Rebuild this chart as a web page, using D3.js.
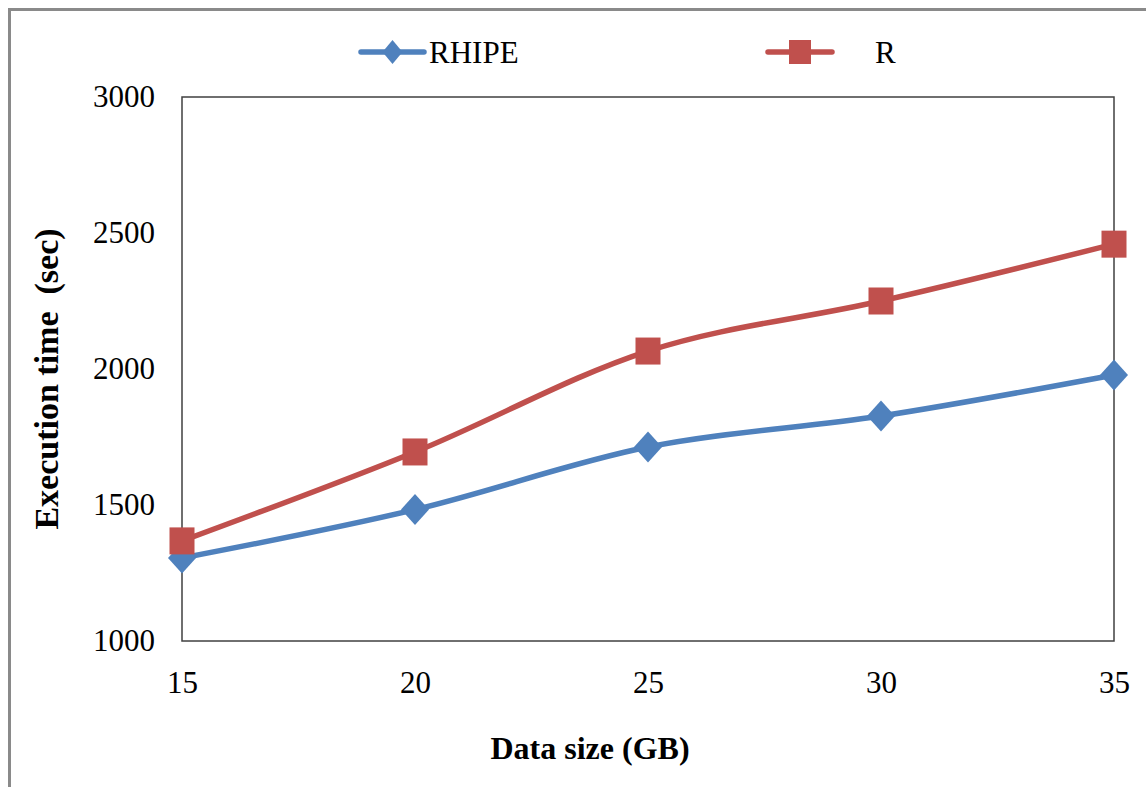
<!DOCTYPE html>
<html><head><meta charset="utf-8">
<script src="https://cdn.jsdelivr.net/npm/d3@7"></script>
<style>
html,body{margin:0;padding:0;background:#fff;}
svg{display:block;}
svg text{font-family:"Liberation Serif","Times New Roman",Times,serif;}
</style>
</head><body>
<svg id="c" width="1146" height="787"></svg>
<script>
const dataSizes = [15, 20, 25, 30, 35];
const rhipe = [1305, 1483, 1713, 1827, 1978];
const rOnly = [1368, 1695, 2066, 2250, 2459];
const yTicks = [1000, 1500, 2000, 2500, 3000];
const xTicks = [15, 20, 25, 30, 35];
const seriesNames = ["RHIPE", "R"];

const svg = d3.select("#c");
const blue = "#4F81BD", red = "#C0504D";

// outer frame
svg.append("rect").attr("x", 9.5).attr("y", 9.5).attr("width", 1160).attr("height", 800)
  .attr("fill", "none").attr("stroke", "#8a8a8a").attr("stroke-width", 3);

const L = 182, R = 1114, T = 97, B = 641;
const x = d3.scaleLinear().domain([15, 35]).range([L, R]);
const y = d3.scaleLinear().domain([1000, 3000]).range([B, T]);

// plot box
svg.append("rect").attr("x", L).attr("y", T).attr("width", R - L).attr("height", B - T)
  .attr("fill", "none").attr("stroke", "#404040").attr("stroke-width", 1.5);

// axes (labels only)
const yAxis = svg.append("g").attr("transform", `translate(${L},0)`)
  .call(d3.axisLeft(y).tickValues(yTicks).tickSize(0).tickPadding(27).tickFormat(d3.format("d")));
yAxis.select(".domain").remove();
yAxis.selectAll("text").style("font-size", "31px").attr("fill", "#000");

const xAxis = svg.append("g").attr("transform", `translate(0,${B})`)
  .call(d3.axisBottom(x).tickValues(xTicks).tickSize(0).tickPadding(30).tickFormat(d3.format("d")));
xAxis.select(".domain").remove();
xAxis.selectAll("text").style("font-size", "31px").attr("fill", "#000");

// axis titles
svg.append("text").attr("x", 590).attr("y", 759).attr("text-anchor", "middle")
  .style("font-weight", "bold").style("font-size", "32px").text("Data size (GB)");
svg.append("text").attr("transform", "translate(58,379) rotate(-90)").attr("text-anchor", "middle")
  .style("font-weight", "bold").style("font-size", "34px")
  .text("Execution time\u00A0 (sec)");

const line = d3.line().x((d, i) => x(dataSizes[i])).y(d => y(d)).curve(d3.curveCatmullRom.alpha(0));

function diamond(g, cx, cy, w, h, col) {
  g.append("path").attr("d", `M${cx},${cy - h}L${cx + w},${cy}L${cx},${cy + h}L${cx - w},${cy}Z`).attr("fill", col);
}
function square(g, cx, cy, w, h, col) {
  g.append("rect").attr("x", cx - w).attr("y", cy - h).attr("width", 2 * w).attr("height", 2 * h).attr("fill", col);
}

const series = [
  { name: seriesNames[0], vals: rhipe, col: blue, mark: diamond, w: 14, h: 15.5, lw: 10, lh: 12 },
  { name: seriesNames[1], vals: rOnly, col: red, mark: square, w: 12.5, h: 13.5, lw: 11, lh: 12 }
];

series.forEach(s => {
  svg.append("path").attr("d", line(s.vals)).attr("fill", "none").attr("stroke", s.col)
    .attr("stroke-width", 5.5).attr("stroke-linecap", "round");
});
series.forEach(s => {
  const g = svg.append("g");
  s.vals.forEach((v, i) => s.mark(g, x(dataSizes[i]), y(v), s.w, s.h, s.col));
});

// legend
const legend = [
  { s: series[0], x0: 361, x1: 424, tx: 429 },
  { s: series[1], x0: 768, x1: 832, tx: 875 }
];
legend.forEach(l => {
  const ly = 52;
  svg.append("line").attr("x1", l.x0).attr("x2", l.x1).attr("y1", ly).attr("y2", ly)
    .attr("stroke", l.s.col).attr("stroke-width", 5.5).attr("stroke-linecap", "round");
  l.s.mark(svg, (l.x0 + l.x1) / 2, ly, l.s.lw, l.s.lh, l.s.col);
  svg.append("text").attr("x", l.tx).attr("y", ly + 11).style("font-size", "31px")
    .attr("fill", "#000").text(l.s.name);
});
</script>
</body></html>
